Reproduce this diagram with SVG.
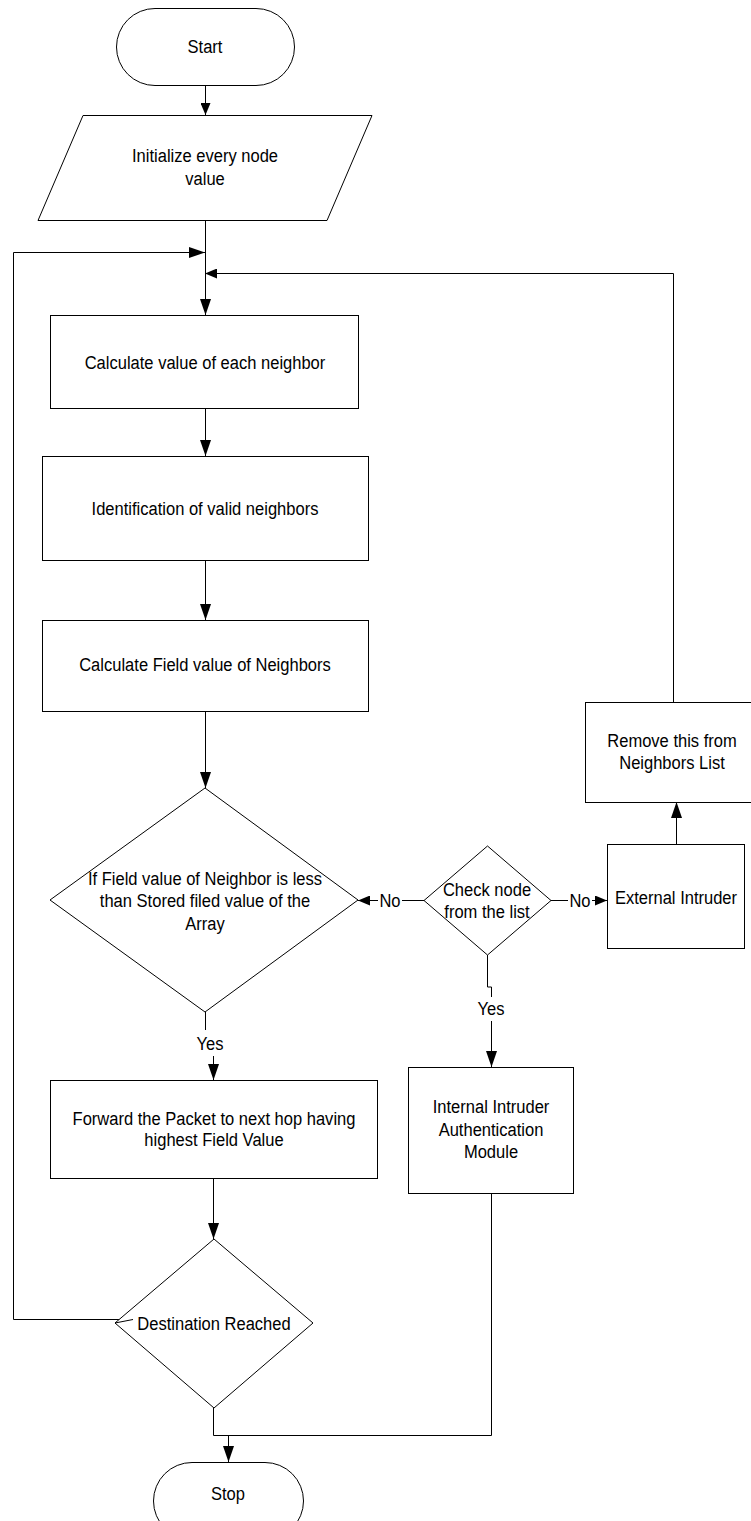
<svg xmlns="http://www.w3.org/2000/svg" width="751" height="1521" viewBox="0 0 751 1521">
<style>
.s{fill:#fff;stroke:#000;stroke-width:1}
.c{fill:none;stroke:#000;stroke-width:1}
.t{font-family:"Liberation Sans",Arial,sans-serif;font-size:19px;fill:#000;text-anchor:middle}
</style>
<defs>
<marker id="ah" viewBox="0 0 16 11" refX="16" refY="5.5" markerWidth="16" markerHeight="11" markerUnits="userSpaceOnUse" orient="auto">
<path d="M0,0 L16,5.5 L0,11 z" fill="#000"/>
</marker>
<marker id="ahs" viewBox="0 0 12 10" refX="12" refY="5" markerWidth="12" markerHeight="10" markerUnits="userSpaceOnUse" orient="auto">
<path d="M0,0 L12,5 L0,10 z" fill="#000"/>
</marker>
</defs>
<rect width="751" height="1521" fill="#fff"/>
<g id="connectors">
<path class="c" d="M205.5,85 V115" marker-end="url(#ahs)"/>
<path class="c" d="M205.5,220 V315" marker-end="url(#ah)"/>
<path class="c" d="M133,1319.5 H13.5 V252.5 H205" marker-end="url(#ah)"/>
<path class="c" d="M673.5,702 V273.5 H205" marker-end="url(#ahs)"/>
<path class="c" d="M205.5,409 V456" marker-end="url(#ah)"/>
<path class="c" d="M205.5,561 V620" marker-end="url(#ah)"/>
<path class="c" d="M205.5,711 V788" marker-end="url(#ah)"/>
<path class="c" d="M205.5,1012 V1030"/>
<path class="c" d="M213.5,1056 V1080" marker-end="url(#ah)"/>
<path class="c" d="M213.5,1178 V1239" marker-end="url(#ah)"/>
<path class="c" d="M213.5,1408 V1435.5 H228.5 V1462" marker-end="url(#ah)"/>
<path class="c" d="M491.5,1193 V1435.5 H228"/>
<path class="c" d="M424,900.5 H402"/>
<path class="c" d="M378,900.5 H358" marker-end="url(#ahs)"/>
<path class="c" d="M551,900.5 H568"/>
<path class="c" d="M592,900.5 H607" marker-end="url(#ahs)"/>
<path class="c" d="M487.5,955 V987 H491.5 V997"/>
<path class="c" d="M491.5,1021 V1067" marker-end="url(#ah)"/>
<path class="c" d="M676.5,844 V802" marker-end="url(#ah)"/>
<text class="t" transform="translate(390,907) scale(0.87,1)">No</text>
<text class="t" transform="translate(580,907) scale(0.87,1)">No</text>
<text class="t" transform="translate(491,1015) scale(0.87,1)">Yes</text>
<text class="t" transform="translate(210,1050) scale(0.87,1)">Yes</text>
</g>
<g id="start">
<rect class="s" x="116.5" y="8.5" width="178" height="77" rx="38.5" ry="38.5"/>
<text class="t" transform="translate(205,53) scale(0.87,1)">Start</text>
</g>
<g id="init">
<polygon class="s" points="83,115.5 372,115.5 327,220.5 38,220.5"/>
<text class="t" transform="translate(205,162) scale(0.87,1)">Initialize every node</text>
<text class="t" transform="translate(205,185) scale(0.87,1)">value</text>
</g>
<g id="calc">
<rect class="s" x="50.5" y="315.5" width="308" height="93"/>
<text class="t" transform="translate(205,369) scale(0.87,1)">Calculate value of each neighbor</text>
</g>
<g id="ident">
<rect class="s" x="42.5" y="456.5" width="326" height="104"/>
<text class="t" transform="translate(205,515) scale(0.87,1)">Identification of valid neighbors</text>
</g>
<g id="field">
<rect class="s" x="42.5" y="620.5" width="326" height="91"/>
<text class="t" transform="translate(205,671) scale(0.87,1)">Calculate Field value of Neighbors</text>
</g>
<g id="decision1">
<polygon class="s" points="205,788 358,900 205,1012 50,900"/>
<text class="t" transform="translate(205,885) scale(0.87,1)">If Field value of Neighbor is less</text>
<text class="t" transform="translate(205,907) scale(0.87,1)">than Stored filed value of the</text>
<text class="t" transform="translate(205,930) scale(0.87,1)">Array</text>
</g>
<g id="check">
<polygon class="s" points="487.5,846 551,900.5 487.5,955 424,900.5"/>
<text class="t" transform="translate(487,896) scale(0.87,1)">Check node</text>
<text class="t" transform="translate(487,918) scale(0.87,1)">from the list</text>
</g>
<g id="external">
<rect class="s" x="607.5" y="844.5" width="137" height="104"/>
<text class="t" transform="translate(676,904) scale(0.87,1)">External Intruder</text>
</g>
<g id="remove">
<rect class="s" x="585.5" y="702.5" width="175" height="100"/>
<text class="t" transform="translate(672,747) scale(0.87,1)">Remove this from</text>
<text class="t" transform="translate(672,769) scale(0.87,1)">Neighbors List</text>
</g>
<g id="forward">
<rect class="s" x="50.5" y="1080.5" width="327" height="98"/>
<text class="t" transform="translate(214,1125) scale(0.87,1)">Forward the Packet to next hop having</text>
<text class="t" transform="translate(214,1146) scale(0.87,1)">highest Field Value</text>
</g>
<g id="internal">
<rect class="s" x="408.5" y="1067.5" width="165" height="126"/>
<text class="t" transform="translate(491,1113) scale(0.87,1)">Internal Intruder</text>
<text class="t" transform="translate(491,1136) scale(0.87,1)">Authentication</text>
<text class="t" transform="translate(491,1158) scale(0.87,1)">Module</text>
</g>
<g id="destination">
<polygon class="s" points="214,1239 313,1323 214,1408 115,1323"/>
<path class="c" d="M115,1323 L133,1319.5"/>
<text class="t" transform="translate(214,1330) scale(0.87,1)">Destination Reached</text>
</g>
<g id="stop">
<rect class="s" x="153.5" y="1462.5" width="150" height="77" rx="38.5" ry="38.5"/>
<text class="t" transform="translate(228,1500) scale(0.87,1)">Stop</text>
</g>
</svg>
